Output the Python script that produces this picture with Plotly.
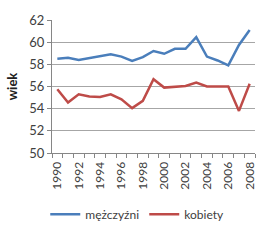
import plotly.graph_objects as go

years = list(range(1990, 2009))
men = [58.5, 58.6, 58.4, 58.55, 58.75, 58.9, 58.7, 58.3, 58.65, 59.2, 58.95, 59.4, 59.4, 60.45, 58.7, 58.35, 57.9, 59.75, 61.1]
women = [55.75, 54.55, 55.3, 55.1, 55.05, 55.3, 54.85, 54.05, 54.7, 56.65, 55.9, 55.95, 56.05, 56.35, 56.0, 56.0, 56.0, 53.8, 56.25]
xlabels = [str(y) for y in range(1990, 2009, 2)]
yticks = [50, 52, 54, 56, 58, 60, 62]

font = "Lato, Open Sans, sans-serif"
fig = go.Figure()
fig.add_trace(go.Scatter(x=years, y=men, mode="lines", name="mężczyźni",
                         line=dict(color="#4A7EBB", width=2.5)))
fig.add_trace(go.Scatter(x=years, y=women, mode="lines", name="kobiety",
                         line=dict(color="#BE4B48", width=2.5)))

fig.update_layout(
    width=280, height=240,
    margin=dict(l=52, r=25, t=13, b=87),
    paper_bgcolor="white", plot_bgcolor="white",
    font=dict(family=font, size=12, color="#404040"),
    showlegend=True,
    legend=dict(orientation="h", x=0.42, xanchor="center", y=-0.46, yanchor="middle",
                font=dict(size=12, color="#404040"), itemwidth=30, tracegroupgap=0),
)
fig.update_xaxes(
    range=[1989.5, 2008.5],
    tickvals=[int(v) for v in xlabels], ticktext=xlabels, tickangle=-90,
    ticks="", showgrid=False, showline=True, linecolor="#868686", linewidth=1,
    minor=dict(ticks="outside", tick0=1989.5, dtick=1, ticklen=4, tickcolor="#868686", showgrid=False),
    tickfont=dict(size=12, color="#404040"), zeroline=False, ticklabelstandoff=3,
)
fig.update_yaxes(
    range=[50, 62], tickvals=yticks,
    showgrid=True, gridcolor="#A6A6A6", gridwidth=1,
    showline=True, linecolor="#868686", linewidth=1,
    ticks="outside", ticklen=4, tickcolor="#868686",
    tickfont=dict(size=13, color="#404040"), zeroline=False,
    title=dict(text="<b>wiek</b>", font=dict(size=13, color="#202020"), standoff=8),
)
fig.write_html("out.html")
